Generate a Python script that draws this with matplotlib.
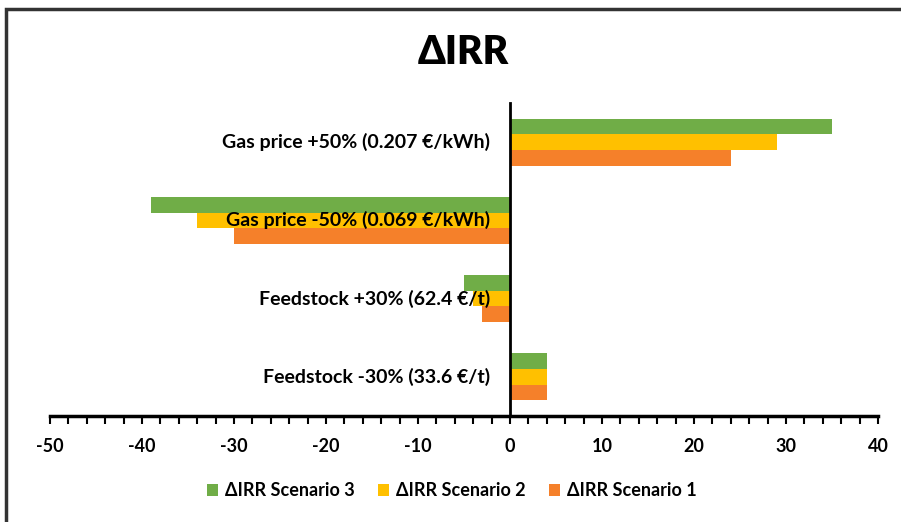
import matplotlib
matplotlib.use("Agg")
import matplotlib.pyplot as plt
from matplotlib.patches import Rectangle
from matplotlib.ticker import MultipleLocator
import matplotlib.transforms as mtrans
import numpy as np

categories = ["Gas price +50% (0.207 €/kWh)", "Gas price -50% (0.069 €/kWh)",
              "Feedstock +30% (62.4 €/t)", "Feedstock -30% (33.6 €/t)"]
scenario3 = [35, -39, -5, 4]
scenario2 = [29, -34, -4, 4]
scenario1 = [24, -30, -3, 4]
series_names = ["ΔIRR Scenario 3", "ΔIRR Scenario 2", "ΔIRR Scenario 1"]
colors = ["#70AD47", "#FFC000", "#F5802A"]
xticks = [-50, -40, -30, -20, -10, 0, 10, 20, 30, 40]

plt.rcParams['font.family'] = ['Lato', 'DejaVu Sans']
plt.rcParams['axes.unicode_minus'] = False

fig = plt.figure(figsize=(9.01, 5.22), dpi=100)
ax = fig.add_axes([50/901, 1-416/522, 828/901, 313/522])

y = np.arange(len(categories))
h = 0.2
for vals, off, c, name in zip([scenario3, scenario2, scenario1], [-h, 0, h], colors, series_names):
    ax.barh(y + off, vals, height=h, color=c, label=name, zorder=2)

ax.set_ylim(len(categories) - 0.5, -0.5)
ax.set_xlim(-50, 40)
ax.set_xticks(xticks)
ax.xaxis.set_minor_locator(MultipleLocator(2))
ax.set_yticks([])
for s in ['top', 'right']:
    ax.spines[s].set_visible(False)
ax.spines['left'].set_position(('data', 0))
ax.spines['left'].set_linewidth(2)
ax.spines['left'].set_zorder(3)
ax.spines['bottom'].set_linewidth(2.5)
ax.tick_params(axis='x', which='both', direction='out', length=6, width=1.5, labelsize=13, pad=10)
for lbl in ax.get_xticklabels():
    lbl.set_fontweight('bold')

offset = mtrans.offset_copy(ax.transData, fig=fig, x=-20, y=0, units='dots')
for i, cat in enumerate(categories):
    ax.text(0, i, cat, transform=offset, ha='right', va='center',
            fontsize=14, fontweight='bold', zorder=4)

fig.text(463/901, 1-53/522, "ΔIRR", ha='center', va='center', fontsize=28, fontweight='heavy')

leg = fig.legend(loc='center', bbox_to_anchor=(452/901, 1-491/522), ncol=3, frameon=False,
                 prop={'weight': 'bold', 'size': 13}, handlelength=0.6, handleheight=0.6,
                 columnspacing=1.3, handletextpad=0.4)

fig.patches.append(Rectangle((6/901, -0.1), 1.2, 1 - 9/522 + 0.1, transform=fig.transFigure,
                             fill=False, edgecolor='#333333', linewidth=2.5))

fig.savefig("out.png", dpi=100)
